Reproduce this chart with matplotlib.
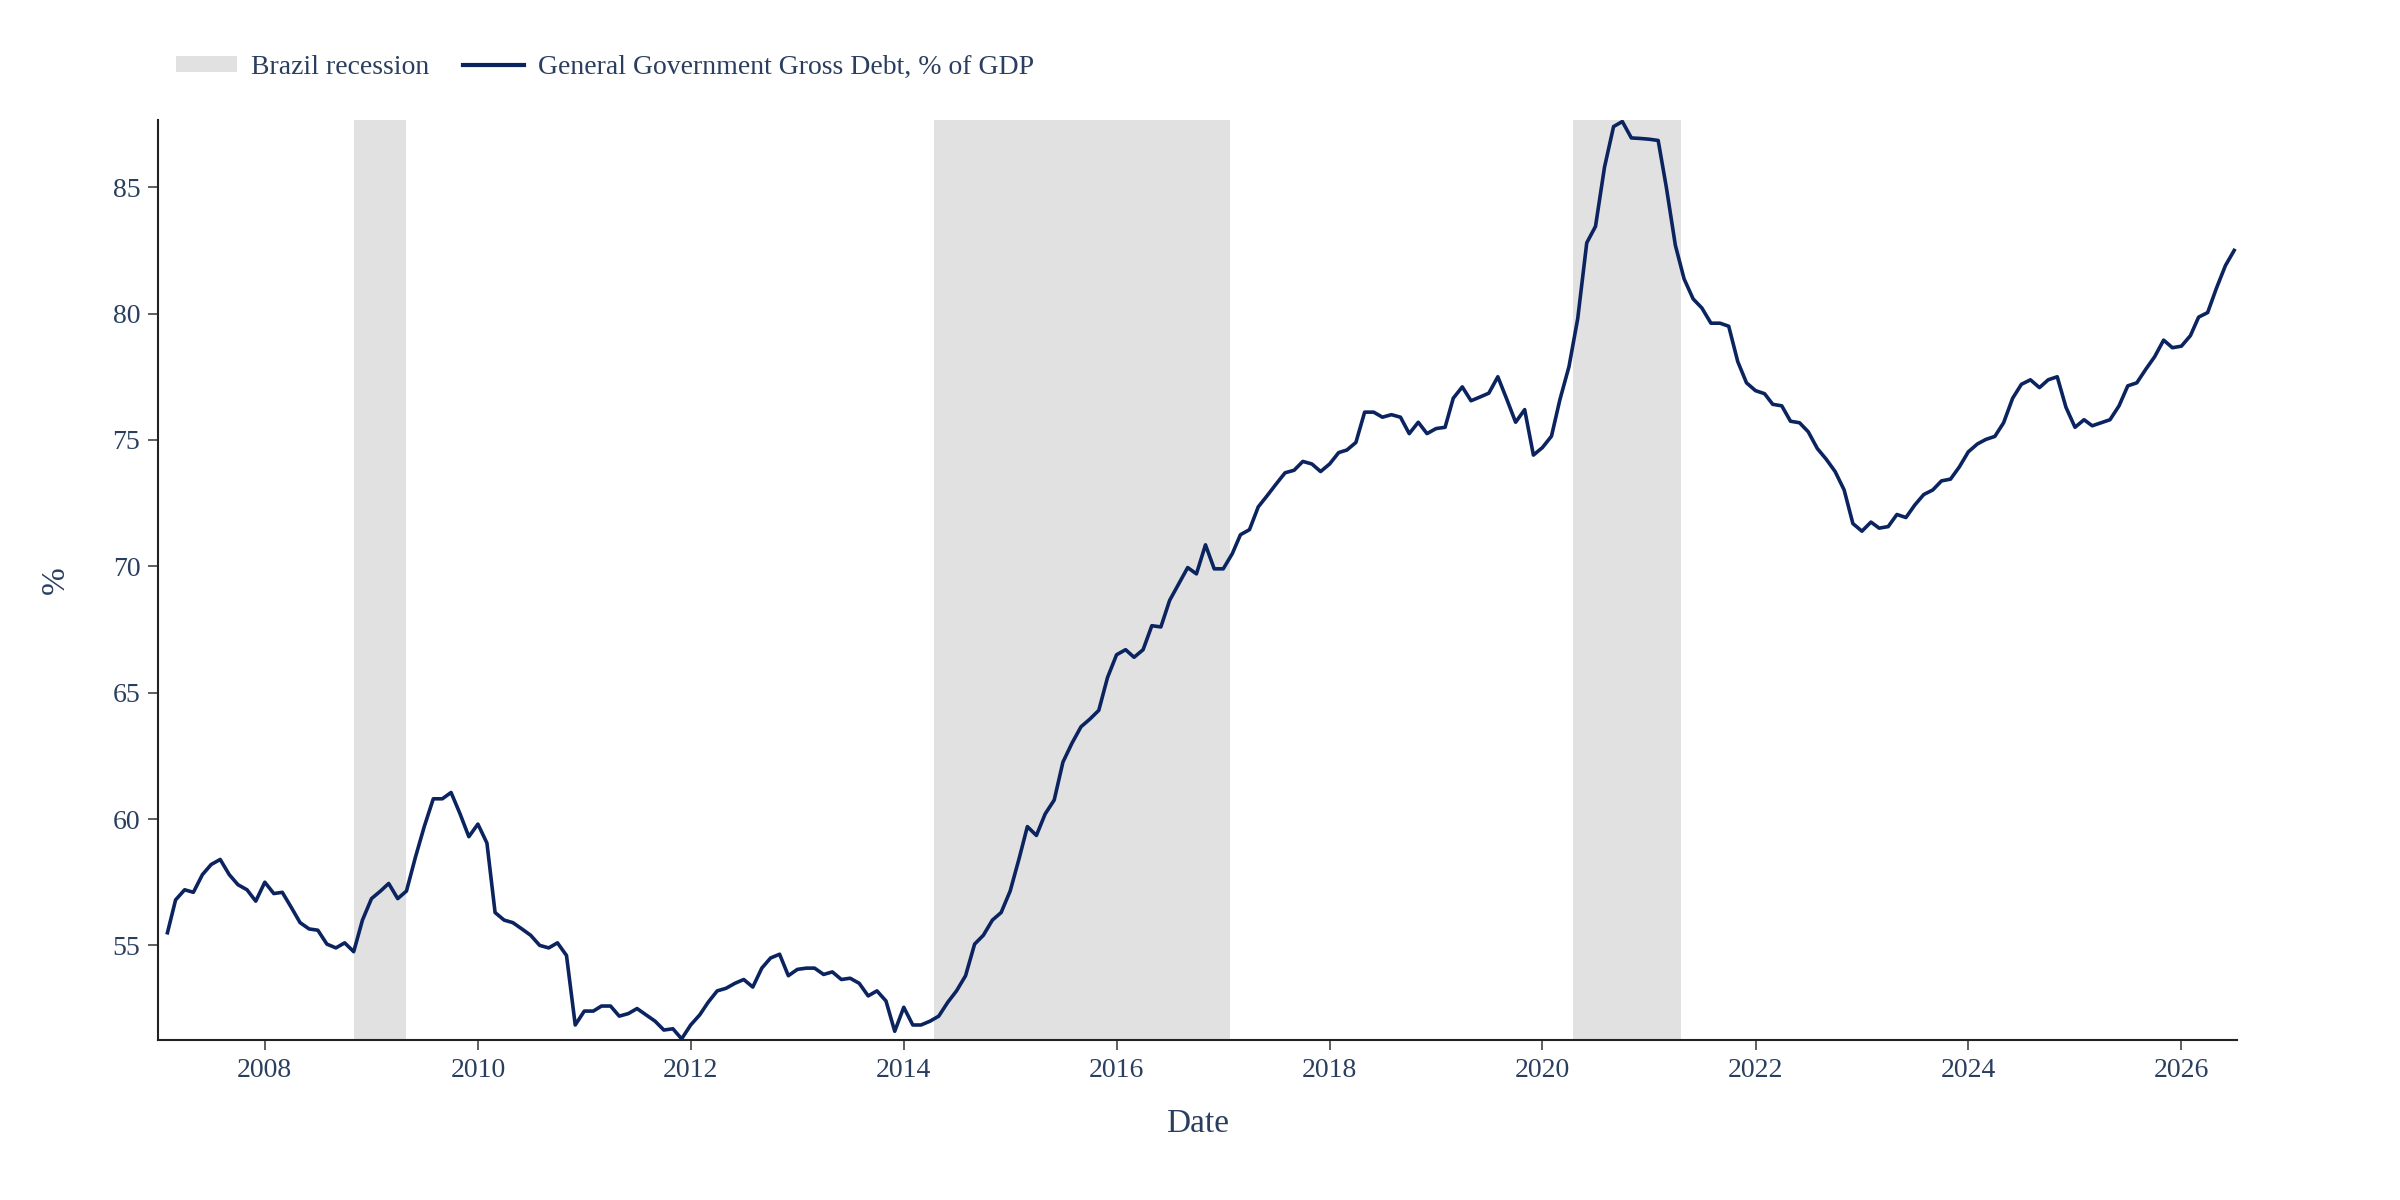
import matplotlib
matplotlib.use("Agg")
import matplotlib.pyplot as plt
import pandas as pd
from matplotlib.patches import Patch
from matplotlib.lines import Line2D

debt_a = [55.5, 56.8, 57.2, 57.1, 57.8, 58.2, 58.4, 57.8, 57.4, 57.2, 56.75, 57.5, 57.05, 57.1,
          56.5, 55.9, 55.65, 55.6, 55.05, 54.9, 55.1, 54.75, 56.0, 56.85, 57.15, 57.45, 56.85, 57.15,
          58.5, 59.7, 60.8, 60.8, 61.05, 60.2, 59.3, 59.8, 59.05, 56.3, 56.0, 55.9, 55.65, 55.4,
          55.0, 54.9, 55.1, 54.6, 51.85, 52.4, 52.4, 52.6, 52.6, 52.2, 52.3, 52.5, 52.25, 52.0,
          51.65, 51.7, 51.3, 51.85, 52.25, 52.75, 53.2, 53.3, 53.5, 53.65, 53.35, 54.1, 54.5, 54.65,
          53.8, 54.05, 54.1, 54.1, 53.85, 53.95, 53.65, 53.7, 53.5, 53.0, 53.2, 52.8, 51.6, 52.55,
          51.85, 51.85, 52.0, 52.2, 52.75, 53.2, 53.8, 55.05, 55.4, 56.0, 56.3, 57.15, 58.45, 59.7,
          59.35, 60.2, 60.75, 62.25, 63.0, 63.65, 63.95, 64.3, 65.6, 66.5, 66.7, 66.4, 66.7, 67.65,
          67.6, 68.65, 69.3, 69.95, 69.7, 70.85, 69.9, 69.9, 70.5, 71.25, 71.45, 72.35, 72.8, 73.25,
          73.7, 73.8, 74.15, 74.05, 73.75, 74.05, 74.5, 74.6, 74.9, 76.1, 76.1, 75.9, 76.0, 75.9,
          75.25, 75.7, 75.25, 75.45, 75.5, 76.65, 77.1, 76.55, 76.7, 76.85, 77.5]
debt_b = [76.6, 75.7, 76.2, 74.4, 74.7, 75.15, 76.6, 77.9, 79.8, 82.8, 83.45, 85.8, 87.4, 87.6,
          86.95, 86.93, 86.9, 86.85, 85.0, 82.7,
          81.37, 80.58, 80.22, 79.62, 79.62, 79.5, 78.1, 77.26, 76.95, 76.83, 76.41, 76.35, 75.74,
          75.68, 75.32, 74.66, 74.23, 73.75, 73.02, 71.69, 71.39, 71.75, 71.51, 71.57, 72.05, 71.93,
          72.42, 72.84, 73.02, 73.38, 73.45, 73.93, 74.53, 74.84, 75.02, 75.14, 75.68, 76.65, 77.2,
          77.38, 77.07, 77.38, 77.5, 76.29, 75.5, 75.8, 75.56, 75.68, 75.8, 76.35, 77.14, 77.26,
          77.8, 78.29, 78.95, 78.65, 78.71, 79.13, 79.86, 80.04, 81.0, 81.9, 82.5]
end_a = "2019-08-01"
start_b = "2019-09-01"
recession_starts = ["2008-11-01", "2014-04-15", "2020-04-15"]
recession_ends = ["2009-05-01", "2017-01-25", "2021-04-20"]
year_ticks = list(range(2008, 2027, 2))

dates_a = pd.date_range(end=end_a, periods=len(debt_a), freq="MS")
dates_b = pd.date_range(start=start_b, periods=len(debt_b), freq="MS")
dates = dates_a.append(dates_b)
values = debt_a + debt_b

txt = "#2a3f5f"
plt.rcParams["font.family"] = ["Liberation Serif", "DejaVu Serif"]
fig = plt.figure(figsize=(24, 12), dpi=100)
ax = fig.add_axes([0.066, 0.133, 0.866, 0.767])
for s, e in zip(recession_starts, recession_ends):
    ax.axvspan(pd.Timestamp(s), pd.Timestamp(e), color="#e1e1e1", lw=0, zorder=0)
ax.plot(dates, values, color="#0b2460", lw=2.6, zorder=2)
ax.set_xlim(pd.Timestamp("2007-01-01"), pd.Timestamp("2026-07-10"))
ax.set_ylim(51.24, 87.66)
ax.set_xticks([pd.Timestamp(f"{y}-01-01") for y in year_ticks])
ax.set_xticklabels([str(y) for y in year_ticks])
ax.set_yticks([55, 60, 65, 70, 75, 80, 85])
for sp in ["top", "right"]:
    ax.spines[sp].set_visible(False)
for sp in ["left", "bottom"]:
    ax.spines[sp].set_color("#222222")
    ax.spines[sp].set_linewidth(1.5)
ax.tick_params(labelsize=20, colors=txt, length=7, width=1.2, pad=6)
ax.tick_params(color="#444444")
ax.set_xlabel("Date", fontsize=24, color=txt, labelpad=18)
ax.set_ylabel("%", fontsize=24, color=txt, labelpad=30)
handles = [Patch(facecolor="#e1e1e1", edgecolor="none"),
           Line2D([0], [0], color="#0b2460", lw=3)]
leg = fig.legend(handles, ["Brazil recession", "General Government Gross Debt, % of GDP"],
                 loc="center left", bbox_to_anchor=(0.063, 0.944), ncol=2, frameon=False,
                 fontsize=20, handlelength=2.2, handleheight=0.5, columnspacing=1.2, handletextpad=0.5)
for t in leg.get_texts():
    t.set_color(txt)
fig.savefig("out.png", dpi=100)
